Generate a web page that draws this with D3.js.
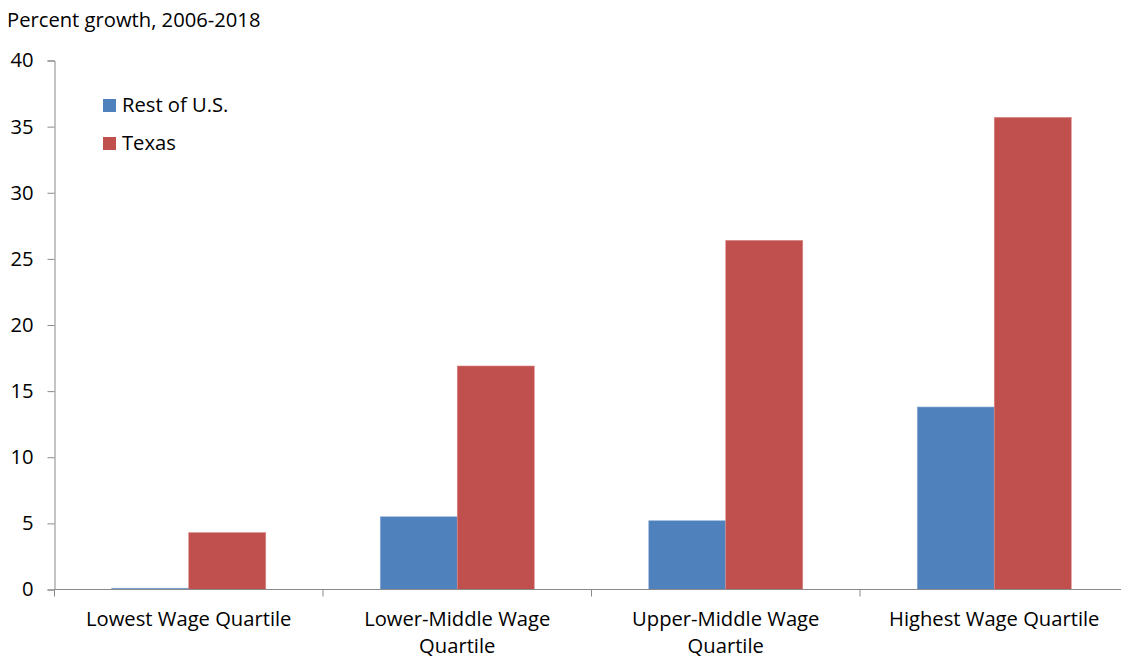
<!DOCTYPE html>
<html>
<head>
<meta charset="utf-8">
<script src="https://cdn.jsdelivr.net/npm/d3@7"></script>
<style>
  body { margin: 0; background: #fff; }
  svg { display: block; font-family: "Open Sans", Lato, sans-serif; }
</style>
</head>
<body>
<div id="chart"></div>
<script>
// values
var categories = ["Lowest Wage Quartile", "Lower-Middle Wage Quartile",
                  "Upper-Middle Wage Quartile", "Highest Wage Quartile"]
var categoryLines = [["Lowest Wage Quartile"], ["Lower-Middle Wage", "Quartile"],
                     ["Upper-Middle Wage", "Quartile"], ["Highest Wage Quartile"]]
var series = ["Rest of U.S.", "Texas"]
var restOfUS = [0.1, 5.5, 5.2, 13.8]
var texas = [4.3, 16.9, 26.4, 35.7]
var yTicks = [0, 5, 10, 15, 20, 25, 30, 35, 40]
var colors = ["#4F81BD", "#C0504D"]

var width = 1121
var height = 658
var plotLeft = 54.5
var plotBottom = 589.5
var plotTop = 60.5
var step = 268.5
var fontSize = '20.2px'

var svg = d3.select('#chart').append('svg')
            .attr('width', width)
            .attr('height', height)

var x = d3.scaleBand()
          .domain(categories)
          .range([plotLeft, plotLeft + step * categories.length])
          .padding(0)

var x1 = d3.scaleBand()
           .domain(series)
           .range([0, x.bandwidth()])
           .paddingInner(0)
           .paddingOuter(0.7435)

var y = d3.scaleLinear()
          .domain([0, 40])
          .range([plotBottom, plotTop])

var color = d3.scaleOrdinal().domain(series).range(colors)

// title
svg.append('text')
   .attr('x', 7)
   .attr('y', 27)
   .style('font-size', fontSize)
   .attr('fill', '#000')
   .text('Percent growth, 2006-2018')

// y axis
var yAxis = svg.append('g')
               .attr('transform', 'translate(' + plotLeft + ',0)')
               .call(d3.axisLeft(y).tickValues(yTicks).tickSize(7).tickPadding(14))
yAxis.select('.domain').attr('stroke', '#898989')
yAxis.selectAll('.tick line').attr('stroke', '#898989')
yAxis.selectAll('.tick text')
     .style('font-size', fontSize)
     .style('font-family', '"Open Sans", Lato, sans-serif')
     .attr('fill', '#000')

// bars
var rows = categories.map(function(c, i) {
  return { cat: c, values: [restOfUS[i], texas[i]] }
})

var groups = svg.selectAll('.grp')
                .data(rows)
                .enter().append('g')
                .attr('class', 'grp')
                .attr('transform', function(d) { return 'translate(' + x(d.cat) + ',0)' })

groups.selectAll('rect')
      .data(function(d) { return series.map(function(s, j) { return { s: s, v: d.values[j] } }) })
      .enter().append('rect')
      .attr('x', function(d) { return x1(d.s) })
      .attr('width', x1.bandwidth())
      .attr('y', function(d) { return y(d.v) })
      .attr('height', function(d) { return y(0) - y(d.v) })
      .attr('fill', function(d) { return color(d.s) })
      .attr('stroke', function(d) { return d.s === 'Texas' ? '#d98886' : '#8fb0d8' })
      .attr('stroke-width', 0.6)

// x axis line and ticks at the category boundaries
svg.append('line')
   .attr('x1', plotLeft).attr('x2', x.range()[1])
   .attr('y1', plotBottom).attr('y2', plotBottom)
   .attr('stroke', '#898989')

var bounds = categories.map(function(c) { return x(c) }).concat([x.range()[1]])
svg.selectAll('.xtick')
   .data(bounds)
   .enter().append('line')
   .attr('class', 'xtick')
   .attr('x1', function(d) { return d }).attr('x2', function(d) { return d })
   .attr('y1', plotBottom).attr('y2', plotBottom + 7)
   .attr('stroke', '#898989')

// category labels
var labels = svg.selectAll('.xlab')
                .data(categories)
                .enter().append('text')
                .attr('class', 'xlab')
                .attr('text-anchor', 'middle')
                .style('font-size', fontSize)
                .attr('fill', '#000')
                .attr('transform', function(d) { return 'translate(' + (x(d) + x.bandwidth() / 2) + ',626)' })

labels.selectAll('tspan')
      .data(function(d, i) { return categoryLines[i] })
      .enter().append('tspan')
      .attr('x', 0)
      .attr('y', function(d, i) { return i * 27 })
      .text(function(d) { return d })

// legend
var legend = svg.selectAll('.leg')
                .data(series)
                .enter().append('g')
                .attr('class', 'leg')
                .attr('transform', function(d, i) { return 'translate(103,' + (99 + i * 38) + ')' })

legend.append('rect')
      .attr('width', 13)
      .attr('height', 13)
      .attr('fill', function(d) { return color(d) })

legend.append('text')
      .attr('x', 19)
      .attr('y', 12.5)
      .style('font-size', fontSize)
      .attr('fill', '#000')
      .text(function(d) { return d })
</script>
</body>
</html>
